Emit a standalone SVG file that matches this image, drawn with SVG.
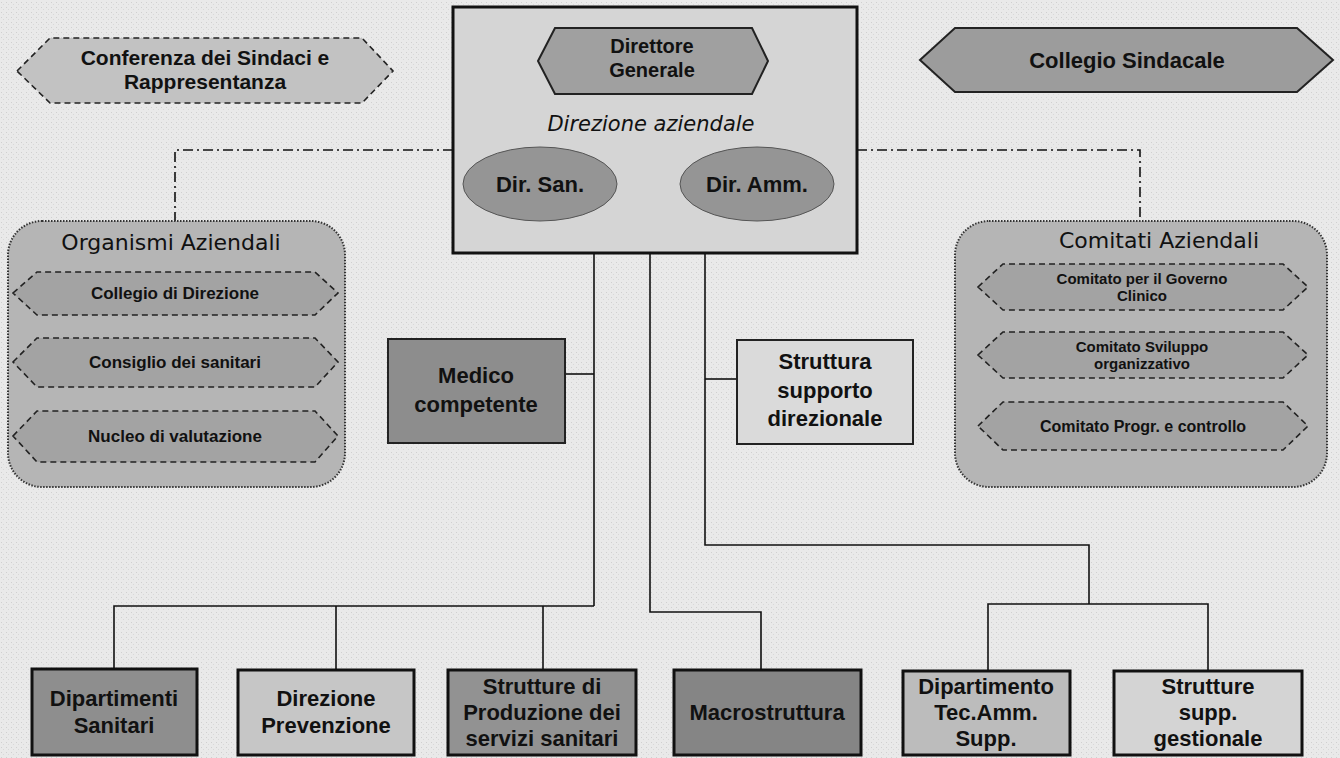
<svg xmlns="http://www.w3.org/2000/svg" width="1340" height="758" viewBox="0 0 1340 758">
<defs>
<pattern id="bg" width="5" height="5" patternUnits="userSpaceOnUse">
<rect width="5" height="5" fill="#e9e9e9"/>
<rect x="1" y="2" width="1" height="1" fill="#cfcfcf"/>
<rect x="3" y="4" width="1" height="1" fill="#d8d8d8"/>
</pattern>
</defs>
<style>
.t{font-family:"Liberation Sans",Arial,sans-serif;font-weight:bold;fill:#111;text-anchor:middle}
.r{font-family:"DejaVu Sans",sans-serif;fill:#111;text-anchor:middle}
.box{stroke:#111;stroke-width:3}
.sbox{stroke:#222;stroke-width:2}
.dash{stroke:#222;stroke-width:1.6;stroke-dasharray:6 4}
.cont{stroke:#333;stroke-width:2;stroke-dasharray:1.5 1.5}
.ln{fill:none;stroke:#111;stroke-width:1.6}
.dd{fill:none;stroke:#111;stroke-width:1.6;stroke-dasharray:10 4 2 4}
</style>
<rect width="1340" height="758" fill="url(#bg)"/>

<g id="connectors">
<path class="dd" d="M453,150 H175 V221"/>
<path class="dd" d="M857,150 H1140 V221"/>
<path class="ln" d="M594,210 V606"/>
<path class="ln" d="M114,668 V606 H594"/>
<path class="ln" d="M336,606 V669"/>
<path class="ln" d="M543,606 V669"/>
<path class="ln" d="M565,374 H594"/>
<path class="ln" d="M650,253 V612 H761 V669"/>
<path class="ln" d="M705,210 V545 H1089 V604"/>
<path class="ln" d="M705,379 H737"/>
<path class="ln" d="M988,670 V604 H1208 V670"/>
</g>

<g id="conferenza">
<polygon class="dash" fill="#c2c2c2" points="17,71 50,38 362,38 393,71 362,103 50,103"/>
<text class="t" x="205" y="65" font-size="21">Conferenza dei Sindaci e</text>
<text class="t" x="205" y="89" font-size="21">Rappresentanza</text>
</g>

<g id="collegio-sindacale">
<polygon class="sbox" fill="#9c9c9c" points="920,60 955,28 1297,28 1333,60 1297,92 955,92"/>
<text class="t" x="1127" y="68" font-size="22">Collegio Sindacale</text>
</g>

<g id="direzione-aziendale">
<rect class="box" x="453" y="7" width="404" height="246" fill="#d5d5d5"/>
<text x="651" y="131" font-family="DejaVu Sans,sans-serif" font-style="italic" font-size="21" fill="#111" text-anchor="middle">Direzione aziendale</text>
</g>

<g id="direttore-generale">
<polygon class="sbox" fill="#a0a0a0" points="538,61 555,28 752,28 768,61 752,94 555,94"/>
<text class="t" x="652" y="53" font-size="20">Direttore</text>
<text class="t" x="652" y="77" font-size="20">Generale</text>
</g>

<g id="dir-san">
<ellipse cx="540" cy="184" rx="77" ry="37" fill="#959595" stroke="#555" stroke-width="1"/>
<text class="t" x="540" y="192" font-size="22">Dir. San.</text>
</g>

<g id="dir-amm">
<ellipse cx="757" cy="184" rx="77" ry="37" fill="#959595" stroke="#555" stroke-width="1"/>
<text class="t" x="757" y="192" font-size="22">Dir. Amm.</text>
</g>

<g id="organismi-aziendali">
<rect class="cont" x="8" y="221" width="337" height="266" rx="34" fill="#b5b5b5"/>
<text class="r" x="171" y="250" font-size="22">Organismi  Aziendali</text>
</g>
<g id="collegio-direzione">
<polygon class="dash" fill="#a3a3a3" points="13,293 37,272 315,272 338,293 315,315 37,315"/>
<text class="t" x="175" y="299" font-size="17">Collegio di Direzione</text>
</g>
<g id="consiglio-sanitari">
<polygon class="dash" fill="#a3a3a3" points="13,362 37,338 315,338 338,362 315,387 37,387"/>
<text class="t" x="175" y="368" font-size="17">Consiglio dei sanitari</text>
</g>
<g id="nucleo-valutazione">
<polygon class="dash" fill="#a3a3a3" points="13,436 37,411 315,411 338,436 315,462 37,462"/>
<text class="t" x="175" y="442" font-size="17">Nucleo di valutazione</text>
</g>

<g id="comitati-aziendali">
<rect class="cont" x="955" y="221" width="372" height="266" rx="34" fill="#b5b5b5"/>
<text class="r" x="1159" y="248" font-size="22">Comitati Aziendali</text>
</g>
<g id="comitato-governo">
<polygon class="dash" fill="#a3a3a3" points="978,287 1003,264 1283,264 1308,287 1283,310 1003,310"/>
<text class="t" x="1142" y="284" font-size="15">Comitato per il Governo</text>
<text class="t" x="1142" y="301" font-size="15">Clinico</text>
</g>
<g id="comitato-sviluppo">
<polygon class="dash" fill="#a3a3a3" points="978,355 1003,332 1283,332 1308,355 1283,378 1003,378"/>
<text class="t" x="1142" y="352" font-size="15">Comitato Sviluppo</text>
<text class="t" x="1142" y="369" font-size="15">organizzativo</text>
</g>
<g id="comitato-progr">
<polygon class="dash" fill="#a3a3a3" points="978,426 1003,402 1283,402 1308,426 1283,450 1003,450"/>
<text class="t" x="1143" y="432" font-size="16">Comitato Progr. e controllo</text>
</g>

<g id="medico-competente">
<rect class="sbox" x="388" y="339" width="177" height="104" fill="#8d8d8d"/>
<text class="t" x="476" y="383" font-size="22">Medico</text>
<text class="t" x="476" y="412" font-size="22">competente</text>
</g>

<g id="struttura-supporto">
<rect class="sbox" x="737" y="340" width="176" height="104" fill="#dadada"/>
<text class="t" x="825" y="369" font-size="22">Struttura</text>
<text class="t" x="825" y="398" font-size="22">supporto</text>
<text class="t" x="825" y="426" font-size="22">direzionale</text>
</g>

<g id="dipartimenti-sanitari">
<rect class="box" x="32" y="669" width="165" height="86" fill="#8e8e8e"/>
<text class="t" x="114" y="706" font-size="22">Dipartimenti</text>
<text class="t" x="114" y="733" font-size="22">Sanitari</text>
</g>

<g id="direzione-prevenzione">
<rect class="box" x="238" y="670" width="176" height="85" fill="#c6c6c6"/>
<text class="t" x="326" y="706" font-size="22">Direzione</text>
<text class="t" x="326" y="733" font-size="22">Prevenzione</text>
</g>

<g id="strutture-produzione">
<rect class="box" x="448" y="670" width="188" height="85" fill="#929292"/>
<text class="t" x="542" y="694" font-size="22">Strutture di</text>
<text class="t" x="542" y="720" font-size="22">Produzione dei</text>
<text class="t" x="542" y="746" font-size="22">servizi sanitari</text>
</g>

<g id="macrostruttura">
<rect class="box" x="674" y="670" width="187" height="85" fill="#858585"/>
<text class="t" x="767" y="720" font-size="22">Macrostruttura</text>
</g>

<g id="dipartimento-tec">
<rect class="box" x="903" y="671" width="167" height="84" fill="#bcbcbc"/>
<text class="t" x="986" y="694" font-size="22">Dipartimento</text>
<text class="t" x="986" y="720" font-size="22">Tec.Amm.</text>
<text class="t" x="986" y="746" font-size="22">Supp.</text>
</g>

<g id="strutture-supp">
<rect class="box" x="1114" y="671" width="188" height="84" fill="#d4d4d4"/>
<text class="t" x="1208" y="694" font-size="22">Strutture</text>
<text class="t" x="1208" y="720" font-size="22">supp.</text>
<text class="t" x="1208" y="746" font-size="22">gestionale</text>
</g>
</svg>
